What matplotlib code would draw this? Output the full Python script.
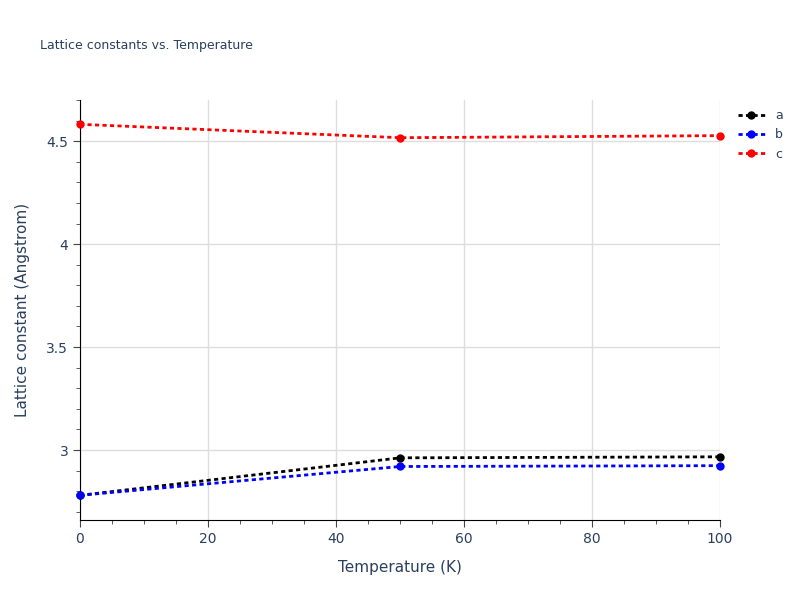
import matplotlib.pyplot as plt
from matplotlib.ticker import MultipleLocator, FuncFormatter

temperature = [0, 50, 100]
lat_a = [2.780, 2.962, 2.967]
lat_b = [2.780, 2.920, 2.924]
lat_c = [4.582, 4.517, 4.527]

fig = plt.figure(figsize=(8, 6), dpi=100)
ax = fig.add_axes([0.1, 0.1333, 0.8, 0.7])

for vals, col, name in [(lat_a, 'black', 'a'), (lat_b, 'blue', 'b'), (lat_c, 'red', 'c')]:
    ax.plot(temperature, vals, linestyle=(0, (1.5, 1.2)), color=col, lw=2,
            marker='o', ms=5, label=name, clip_on=False, zorder=3)

ax.set_xlim(0, 100)
ax.set_ylim(2.66, 4.70)
ax.xaxis.set_major_locator(MultipleLocator(20))
ax.xaxis.set_minor_locator(MultipleLocator(5))
ax.yaxis.set_major_locator(MultipleLocator(0.5))
ax.yaxis.set_minor_locator(MultipleLocator(0.1))
ax.yaxis.set_major_formatter(FuncFormatter(lambda v, p: f'{v:g}'))
ax.grid(True, which='major', color='#dddddd', lw=1)
ax.set_axisbelow(True)
for s in ['top', 'right']:
    ax.spines[s].set_visible(False)
for s in ['left', 'bottom']:
    ax.spines[s].set_color('black')
ax.tick_params(which='both', colors='#444444', labelcolor='#2a3f5f', labelsize=10, direction='out')
ax.tick_params(which='major', length=5)
ax.tick_params(which='minor', length=3)
ax.set_xlabel('Temperature (K)', color='#2a3f5f', fontsize=11, labelpad=10)
ax.set_ylabel('Lattice constant (Angstrom)', color='#2a3f5f', fontsize=11, labelpad=12)
fig.text(0.05, 0.918, 'Lattice constants vs. Temperature', color='#2a3f5f', fontsize=9)
leg = ax.legend(loc='upper left', bbox_to_anchor=(1.01, 1.005), frameon=False, fontsize=9,
                handlelength=2.2, labelcolor='#2a3f5f')
fig.savefig('out.png', dpi=100)
